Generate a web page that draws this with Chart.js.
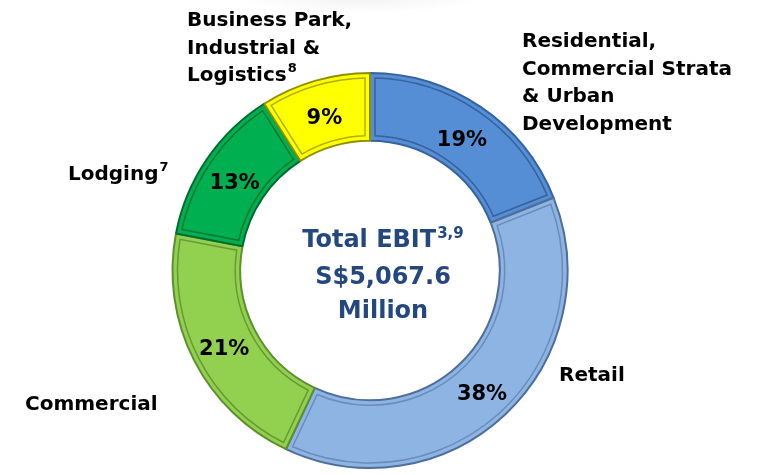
<!DOCTYPE html>
<html>
<head>
<meta charset="utf-8">
<script src="https://cdn.jsdelivr.net/npm/chart.js@4.4.1/dist/chart.umd.min.js"></script>
<style>
  html, body { margin: 0; padding: 0; background: #ffffff; }
  #wrap { width: 764px; height: 475px; position: relative; }
</style>
</head>
<body>
<div id="wrap"><canvas id="c" width="764" height="475"></canvas></div>
<script>
// ---- data ----
const categories = [
  'Residential, Commercial Strata & Urban Development',
  'Retail',
  'Commercial',
  'Lodging',
  'Business Park, Industrial & Logistics'
];
const shares = [19, 38, 21, 13, 9];
const percentLabels = ['19%', '38%', '21%', '13%', '9%'];
const categoryLines = [
  ['Residential,', 'Commercial Strata', '& Urban', 'Development'],
  ['Retail'],
  ['Commercial'],
  ['Lodging'],
  ['Business Park,', 'Industrial &', 'Logistics']
];
const categoryNotes = ['', '', '', '7', '8'];
const centerTitle = 'Total EBIT';
const centerNote = '3,9';
const centerValue = 'S$5,067.6';
const centerUnit = 'Million';

// ---- styles ----
const fills = ['#558ED5', '#8EB4E3', '#92D050', '#00B050', '#FFFF00'];
const edges = ['#35639E', '#4F6E99', '#5F8F2C', '#006B30', '#8F8F00'];
const bevels = ['rgba(30,60,110,0.55)', 'rgba(60,90,140,0.45)', 'rgba(70,110,30,0.55)', 'rgba(0,80,30,0.6)', 'rgba(120,120,0,0.6)'];
const FONT = '"DejaVu Sans", sans-serif';

// anchor (left x, first-line centre y) for each outer category label
const outerAnchors = [
  { x: 522, y: 42 },
  { x: 559, y: 376 },
  { x: 25, y: 405 },
  { x: 68, y: 175 },
  { x: 187, y: 21 }
];

const bgPlugin = {
  id: 'bg',
  beforeDraw(chart) {
    const ctx = chart.ctx;
    ctx.save();
    ctx.fillStyle = '#ffffff';
    ctx.fillRect(0, 0, chart.width, chart.height);
    // faint soft shadow at top
    ctx.translate(360, -6);
    ctx.scale(1, 0.15);
    const g = ctx.createRadialGradient(0, 0, 0, 0, 0, 130);
    g.addColorStop(0, 'rgba(0,0,0,0.06)');
    g.addColorStop(1, 'rgba(0,0,0,0)');
    ctx.fillStyle = g;
    ctx.beginPath();
    ctx.arc(0, 0, 130, 0, Math.PI * 2);
    ctx.fill();
    ctx.restore();
  }
};

const bevelPlugin = {
  id: 'bevel',
  afterDatasetsDraw(chart) {
    const ctx = chart.ctx;
    const meta = chart.getDatasetMeta(0);
    meta.data.forEach((arc, i) => {
      const p = arc.getProps(['x', 'y', 'startAngle', 'endAngle', 'innerRadius', 'outerRadius'], true);
      const inset = 5;
      const ro = p.outerRadius - inset, ri = p.innerRadius + inset;
      const da1 = inset / ro, da2 = inset / ri;
      ctx.save();
      ctx.strokeStyle = bevels[i];
      ctx.lineWidth = 1.5;
      ctx.beginPath();
      ctx.arc(p.x, p.y, ro, p.startAngle + da1, p.endAngle - da1);
      ctx.arc(p.x, p.y, ri, p.endAngle - da2, p.startAngle + da2, true);
      ctx.closePath();
      ctx.stroke();
      ctx.restore();
    });
  }
};

function drawSup(ctx, mainText, supText, x, y, mainFont, supFont, align) {
  ctx.font = mainFont;
  const w1 = ctx.measureText(mainText).width;
  ctx.font = supFont;
  const w2 = supText ? ctx.measureText(supText).width + 1 : 0;
  let left = x;
  if (align === 'center') left = x - (w1 + w2) / 2;
  ctx.textAlign = 'left';
  ctx.textBaseline = 'middle';
  ctx.font = mainFont;
  ctx.fillText(mainText, left, y);
  if (supText) {
    ctx.font = supFont;
    ctx.fillText(supText, left + w1 + 1, y - 7);
  }
}

const labelPlugin = {
  id: 'labels',
  afterDraw(chart) {
    const ctx = chart.ctx;
    const meta = chart.getDatasetMeta(0);
    ctx.save();
    // percentage labels on ring
    ctx.fillStyle = '#000000';
    ctx.font = 'bold 21px ' + FONT;
    ctx.textAlign = 'center';
    ctx.textBaseline = 'middle';
    meta.data.forEach((arc, i) => {
      const p = arc.getProps(['x', 'y', 'startAngle', 'endAngle', 'innerRadius', 'outerRadius'], true);
      const a = (p.startAngle + p.endAngle) / 2;
      const r = (p.innerRadius + p.outerRadius) / 2;
      ctx.fillText(percentLabels[i], p.x + Math.cos(a) * r, p.y + Math.sin(a) * r + 5);
    });
    // outer category labels
    const lineH = 27.5;
    categoryLines.forEach((lines, i) => {
      const an = outerAnchors[i];
      lines.forEach((ln, j) => {
        const last = j === lines.length - 1;
        ctx.fillStyle = '#000000';
        drawSup(ctx, ln, last ? categoryNotes[i] : '', an.x, an.y + j * lineH,
          'bold 20px ' + FONT, 'bold 13px ' + FONT, 'left');
      });
    });
    // centre text
    ctx.fillStyle = '#24487D';
    const cx = 383;
    drawSup(ctx, centerTitle, centerNote, cx, 241, 'bold 24px ' + FONT, 'bold 15px ' + FONT, 'center');
    ctx.textAlign = 'center';
    ctx.font = 'bold 24px ' + FONT;
    ctx.fillText(centerValue, cx, 278);
    ctx.fillText(centerUnit, cx, 312);
    ctx.restore();
  }
};

new Chart(document.getElementById('c'), {
  type: 'doughnut',
  data: {
    labels: categories,
    datasets: [{
      data: shares,
      backgroundColor: fills,
      borderColor: edges,
      borderWidth: 2,
      borderAlign: 'center'
    }]
  },
  options: {
    responsive: false,
    animation: false,
    cutout: '65.7%',
    rotation: 0,
    layout: { padding: { left: 170, right: 194, top: 72, bottom: 6 } },
    plugins: {
      legend: { display: false },
      tooltip: { enabled: false }
    }
  },
  plugins: [bgPlugin, bevelPlugin, labelPlugin]
});
</script>
</body>
</html>
